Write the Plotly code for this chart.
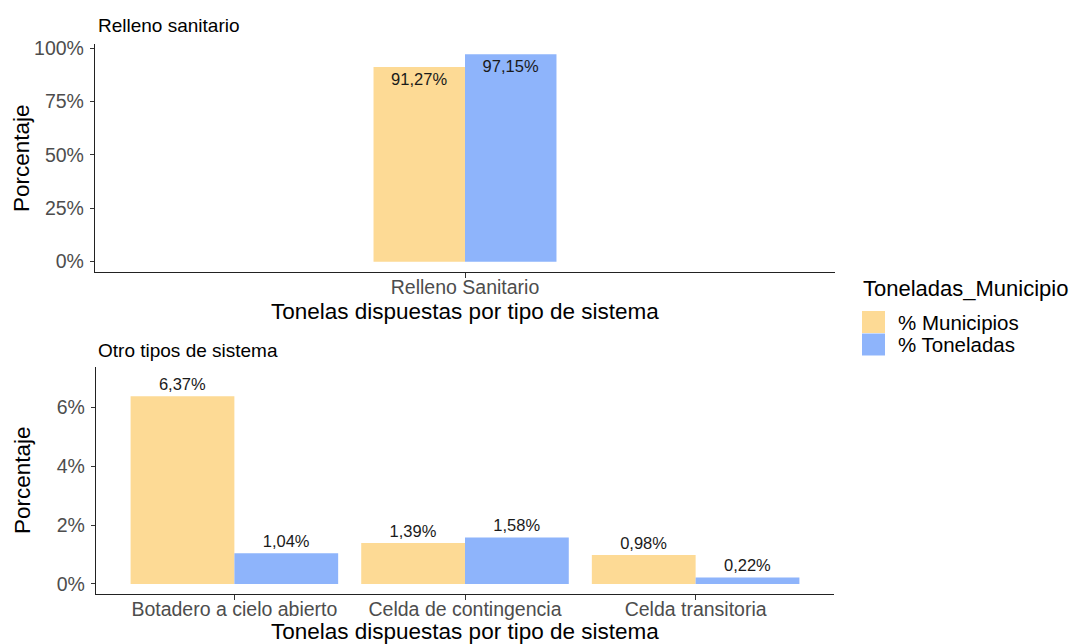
import plotly.graph_objects as go

# ---- data ----
series_names = ["% Municipios", "% Toneladas"]
colors = ["#FDDA95", "#8EB4FB"]

top_categories = ["Relleno Sanitario"]
top_municipios = [91.27]
top_toneladas = [97.15]

bottom_categories = ["Botadero a cielo abierto", "Celda de contingencia", "Celda transitoria"]
bottom_municipios = [6.37, 1.39, 0.98]
bottom_toneladas = [1.04, 1.58, 0.22]

top_ticks = [0, 25, 50, 75, 100]
bottom_ticks = [0, 2, 4, 6]

W, H = 1077, 644
FONT = "Liberation Sans, Arial, sans-serif"


def fmt(v):
    return f"{v:.2f}".replace(".", ",") + "%"


def px(x):
    return x / W


def py(y):
    return 1 - y / H


fig = go.Figure()

# top panel
for name, vals, col in zip(series_names, [top_municipios, top_toneladas], colors):
    fig.add_trace(go.Bar(
        x=top_categories, y=vals, name=name, marker=dict(color=col, line=dict(width=0)),
        text=[fmt(v) for v in vals], textposition="inside", insidetextanchor="end",
        textangle=0, constraintext="none",
        textfont=dict(family=FONT, size=16.5, color="#1a1a1a"),
        xaxis="x", yaxis="y", showlegend=False, cliponaxis=False,
    ))

# bottom panel
for name, vals, col in zip(series_names, [bottom_municipios, bottom_toneladas], colors):
    fig.add_trace(go.Bar(
        x=bottom_categories, y=vals, name=name, marker=dict(color=col, line=dict(width=0)),
        text=[fmt(v) for v in vals], textposition="outside",
        textangle=0, constraintext="none",
        textfont=dict(family=FONT, size=16.5, color="#1a1a1a"),
        xaxis="x2", yaxis="y2", showlegend=False, cliponaxis=False,
    ))

axis_common = dict(
    showline=True, linecolor="#222222", linewidth=1.3, showgrid=False, zeroline=False,
    ticks="outside", tickcolor="#333333", tickwidth=1.1, automargin=False,
    tickfont=dict(family=FONT, size=19.5, color="#4D4D4D"),
)
x_extra = dict(ticklen=5, ticklabelstandoff=-8)
y_extra = dict(ticklen=4, ticklabelstandoff=2)

fig.update_layout(
    width=W, height=H,
    margin=dict(l=0, r=0, t=0, b=0, autoexpand=False),
    plot_bgcolor="white", paper_bgcolor="white",
    barmode="group", bargap=0.1, bargroupgap=0,
    showlegend=False,
    xaxis=dict(domain=[px(95), px(835)], anchor="y", range=[-1.82, 1.82], **x_extra, **axis_common),
    yaxis=dict(domain=[py(272), py(44)], anchor="x", range=[-4.86, 102.0],
               tickvals=top_ticks, ticktext=[f"{t}%" for t in top_ticks], **y_extra, **axis_common),
    xaxis2=dict(domain=[px(96), px(834)], anchor="y2", range=[-0.6, 2.6], **x_extra, **axis_common),
    yaxis2=dict(domain=[py(594), py(367)], anchor="x2", range=[-0.34, 7.36],
                tickvals=bottom_ticks, ticktext=[f"{t}%" for t in bottom_ticks], **y_extra, **axis_common),
)

ann = []
# panel titles
ann.append(dict(text="Relleno sanitario", x=px(96), y=py(25), xref="paper", yref="paper",
                xanchor="left", yanchor="middle", showarrow=False,
                font=dict(family=FONT, size=19, color="black")))
ann.append(dict(text="Otro tipos de sistema", x=px(96), y=py(350), xref="paper", yref="paper",
                xanchor="left", yanchor="middle", showarrow=False,
                font=dict(family=FONT, size=19, color="black")))
# x axis titles
for yy in (311, 631):
    ann.append(dict(text="Tonelas dispuestas por tipo de sistema", x=px(465), y=py(yy),
                    xref="paper", yref="paper", xanchor="center", yanchor="middle", showarrow=False,
                    font=dict(family=FONT, size=22.5, color="black")))
# y axis titles
for yy in (158, 480):
    ann.append(dict(text="Porcentaje", x=px(22), y=py(yy), xref="paper", yref="paper",
                    xanchor="center", yanchor="middle", textangle=-90, showarrow=False,
                    font=dict(family=FONT, size=22.5, color="black")))
# legend
ann.append(dict(text="Toneladas_Municipio", x=px(861), y=py(288), xref="paper", yref="paper",
                xanchor="left", yanchor="middle", showarrow=False,
                font=dict(family=FONT, size=22, color="black")))
shapes = []
for i, (name, col) in enumerate(zip(series_names, colors)):
    y0 = 311 + i * 22.5
    shapes.append(dict(type="rect", xref="paper", yref="paper", x0=px(862), x1=px(885),
                       y0=py(y0), y1=py(y0 + 22), fillcolor=col, line=dict(width=0)))
    ann.append(dict(text=name, x=px(896), y=py(y0 + 11), xref="paper", yref="paper",
                    xanchor="left", yanchor="middle", showarrow=False,
                    font=dict(family=FONT, size=20.5, color="black")))

fig.update_layout(annotations=ann, shapes=shapes)
fig.write_html("out.html", config={"displayModeBar": False},
               post_script="document.body.style.margin='0px';document.body.style.overflow='hidden';")
